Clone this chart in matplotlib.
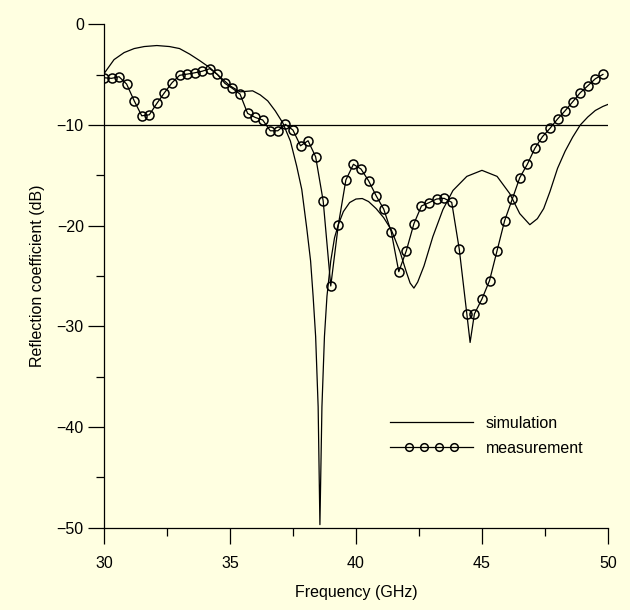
import matplotlib
matplotlib.use("Agg")
import matplotlib.pyplot as plt
from matplotlib.ticker import MultipleLocator
from matplotlib.lines import Line2D
from matplotlib.legend_handler import HandlerLine2D, HandlerTuple

plt.rcParams['font.family'] = ['Liberation Sans', 'DejaVu Sans']

bg = '#ffffe1'

# simulation curve (GHz, dB)
sim_freq = [30.0, 30.4, 30.8, 31.2, 31.6, 32.1, 32.6, 33.0, 33.4, 33.8,
            34.2, 34.6, 35.0, 35.4, 35.9, 36.2, 36.5, 36.8, 37.1, 37.4,
            37.65, 37.85, 38.05, 38.2, 38.3, 38.4, 38.5, 38.57, 38.65, 38.75,
            38.85, 39.0, 39.15, 39.3, 39.5, 39.75, 40.0, 40.25, 40.5, 40.8,
            41.1, 41.4, 41.75, 42.0, 42.15, 42.3, 42.45, 42.7, 43.05, 43.45,
            43.85, 44.4, 45.0, 45.6, 46.1, 46.5, 46.9, 47.2, 47.45, 47.7,
            48.0, 48.3, 48.6, 48.9, 49.2, 49.5, 49.8, 50.0]
sim_db = [-4.9, -3.5, -2.8, -2.4, -2.2, -2.1, -2.2, -2.4, -2.95, -3.6,
          -4.3, -5.2, -6.1, -6.7, -6.6, -7.0, -7.6, -8.6, -9.8, -11.6,
          -14.1, -16.4, -20.3, -23.5, -27.0, -31.0, -38.0, -49.7, -38.0, -31.0,
          -27.0, -23.5, -21.2, -19.9, -18.6, -17.7, -17.35, -17.3, -17.6, -18.3,
          -19.2, -20.4, -22.6, -24.6, -25.7, -26.2, -25.6, -24.0, -21.1, -18.4,
          -16.5, -15.1, -14.5, -15.1, -16.8, -18.8, -19.9, -19.3, -18.3, -16.6,
          -14.3, -12.6, -11.2, -10.0, -9.2, -8.55, -8.15, -7.95]

# measurement (markers every 0.3 GHz, plus one unmarked dip at 44.53 GHz)
meas_freq = [30.0, 30.3, 30.6, 30.9, 31.2, 31.5, 31.8, 32.1, 32.4, 32.7,
             33.0, 33.3, 33.6, 33.9, 34.2, 34.5, 34.8, 35.1, 35.4, 35.7,
             36.0, 36.3, 36.6, 36.9, 37.2, 37.5, 37.8, 38.1, 38.4, 38.7,
             39.0, 39.3, 39.6, 39.9, 40.2, 40.5, 40.8, 41.1, 41.4, 41.7,
             42.0, 42.3, 42.6, 42.9, 43.2, 43.5, 43.8, 44.1, 44.4, 44.53,
             44.7, 45.0, 45.3, 45.6, 45.9, 46.2, 46.5, 46.8, 47.1, 47.4,
             47.7, 48.0, 48.3, 48.6, 48.9, 49.2, 49.5, 49.8]
meas_db = [-5.3, -5.36, -5.2, -5.93, -7.59, -9.08, -8.98, -7.85, -6.79, -5.8,
           -5.06, -4.94, -4.81, -4.65, -4.4, -4.97, -5.86, -6.36, -6.92, -8.84,
           -9.24, -9.5, -10.57, -10.57, -9.93, -10.5, -12.06, -11.56, -13.15, -17.55,
           -25.99, -19.93, -15.46, -13.9, -14.37, -15.53, -17.02, -18.34, -20.6, -24.57,
           -22.48, -19.8, -18.04, -17.71, -17.35, -17.28, -17.68, -22.34, -28.77, -31.6,
           -28.77, -27.28, -25.46, -22.48, -19.5, -17.38, -15.23, -13.9, -12.31, -11.16,
           -10.33, -9.4, -8.58, -7.69, -6.79, -6.1, -5.4, -4.97]
dip_index = 49
marked = [i for i in range(len(meas_freq)) if i != dip_index]

fig = plt.figure(figsize=(6.3, 6.1), dpi=100, facecolor=bg)
ax = fig.add_axes([0.165, 0.135, 0.80, 0.825])
ax.set_facecolor(bg)

ax.axhline(-10, color='black', lw=0.9)
sim_line, = ax.plot(sim_freq, sim_db, color='black', lw=0.9)
ax.plot(meas_freq, meas_db, color='black', lw=0.9, marker='o', ms=6.5,
        mfc='none', mec='black', mew=1.1, markevery=marked)

ax.set_xlim(30, 50)
ax.set_ylim(-50, 0)
ax.xaxis.set_major_locator(MultipleLocator(5))
ax.xaxis.set_minor_locator(MultipleLocator(2.5))
ax.yaxis.set_major_locator(MultipleLocator(10))
ax.yaxis.set_minor_locator(MultipleLocator(5))
ax.tick_params(which='major', direction='out', length=11.5, width=0.9, labelsize=11.5, pad=3)
ax.tick_params(axis='x', which='major', pad=9)
ax.tick_params(which='minor', direction='out', length=5.8, width=0.9)
for s in ['top', 'right']:
    ax.spines[s].set_visible(False)
for s in ['left', 'bottom']:
    ax.spines[s].set_linewidth(0.9)

ax.set_xlabel('Frequency (GHz)', fontsize=11.5, labelpad=10)
ax.set_ylabel('Reflection coefficient (dB)', fontsize=11.5, labelpad=8)

# legend: measurement handle = full line + 4 inset circles
leg_line = Line2D([], [], color='black', lw=0.9)
leg_marks = Line2D([], [], ls='none', marker='o', ms=5.5, mfc='none',
                   mec='black', mew=1.1)
ax.legend([sim_line, (leg_line, leg_marks)], ['simulation', 'measurement'],
          handler_map={leg_marks: HandlerLine2D(numpoints=4, marker_pad=1.45),
                       tuple: HandlerTuple(ndivide=1)},
          loc='upper left', bbox_to_anchor=(0.559, 0.222), frameon=False,
          fontsize=11.5, handlelength=5.75, handletextpad=0.5, numpoints=4,
          labelspacing=0.6, borderpad=0, borderaxespad=0)

fig.savefig('out.png', dpi=100, facecolor=bg)
